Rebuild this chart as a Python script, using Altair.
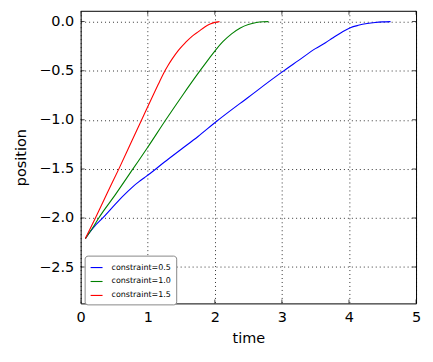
import altair as alt
import pandas as pd

# ---- data ----
labels = ["constraint=0.5", "constraint=1.0", "constraint=1.5"]
colors = ["#0000ff", "#008000", "#ff0000"]

t_05 = [0.07, 0.12, 0.20, 0.33, 0.45, 0.57, 0.68, 0.78, 0.87, 0.95, 1.03, 1.25, 1.50, 1.75,
        2.00, 2.50, 3.00, 3.25, 3.50, 3.65, 3.75, 3.90, 4.02, 4.14, 4.27, 4.39, 4.50, 4.62]
p_05 = [-2.21, -2.16, -2.09, -2.00, -1.91, -1.82, -1.745, -1.68, -1.63, -1.59, -1.55, -1.43, -1.30, -1.17,
        -1.03, -0.77, -0.515, -0.395, -0.275, -0.215, -0.17, -0.105, -0.062, -0.038, -0.02, -0.009, -0.003, 0.0]

t_10 = [0.07, 0.17, 0.27, 0.52, 0.78, 1.00, 1.27, 1.52, 1.78, 1.90, 2.00, 2.12, 2.25,
        2.38, 2.50, 2.62, 2.72, 2.80]
p_10 = [-2.21, -2.11, -2.00, -1.76, -1.50, -1.28, -1.00, -0.75, -0.50, -0.39, -0.30, -0.205, -0.125,
        -0.065, -0.03, -0.01, -0.002, 0.0]

t_15 = [0.07, 0.22, 0.40, 0.57, 0.74, 0.91, 1.08, 1.16, 1.23, 1.30, 1.37, 1.46, 1.56, 1.66,
        1.76, 1.85, 1.93, 2.00, 2.07]
p_15 = [-2.21, -2.00, -1.74, -1.50, -1.25, -1.00, -0.75, -0.635, -0.535, -0.45, -0.375, -0.29, -0.215, -0.15,
        -0.10, -0.055, -0.025, -0.008, 0.0]

x_ticks = [0, 1, 2, 3, 4, 5]
y_ticks = [-2.5, -2.0, -1.5, -1.0, -0.5, 0.0]

rows = []
for lab, ts, ps in zip(labels, [t_05, t_10, t_15], [p_05, p_10, p_15]):
    for t, p in zip(ts, ps):
        rows.append({"time": t, "position": p, "series": lab})
df = pd.DataFrame(rows)

W, H = 337, 294
xscale = alt.Scale(domain=[0, 5], nice=False, zero=False)
yscale = alt.Scale(domain=[-2.87, 0.11], nice=False, zero=False)

lines = alt.Chart(df).mark_line(strokeWidth=1.1, clip=True, interpolate="monotone").encode(
    x=alt.X("time:Q", scale=xscale, title="time",
            axis=alt.Axis(values=x_ticks, format="d")),
    y=alt.Y("position:Q", scale=yscale, title="position",
            axis=alt.Axis(values=y_ticks, format=".1f")),
    color=alt.Color("series:N",
                    scale=alt.Scale(domain=labels, range=colors),
                    legend=alt.Legend(title=None, orient="none", legendX=4, legendY=246,
                                      symbolType="stroke", symbolSize=144,
                                      symbolStrokeWidth=1.1, labelFontSize=8,
                                      labelFont="DejaVu Sans", labelColor="black",
                                      padding=5, rowPadding=3, labelOffset=8,
                                      strokeColor="#888888", cornerRadius=3,
                                      fillColor="white")),
)

xt = pd.DataFrame({"t": x_ticks})
yt = pd.DataFrame({"p": y_ticks})
tick_top = alt.Chart(xt).mark_tick(color="black", thickness=1, size=8, clip=True,
                                   orient="vertical").encode(
    x=alt.X("t:Q", scale=xscale), y=alt.value(0))
tick_bot = alt.Chart(xt).mark_tick(color="black", thickness=1, size=8, clip=True,
                                   orient="vertical").encode(
    x=alt.X("t:Q", scale=xscale), y=alt.value(H))
tick_left = alt.Chart(yt).mark_tick(color="black", thickness=1, size=8, clip=True,
                                    orient="horizontal").encode(
    y=alt.Y("p:Q", scale=yscale), x=alt.value(0))
tick_right = alt.Chart(yt).mark_tick(color="black", thickness=1, size=8, clip=True,
                                     orient="horizontal").encode(
    y=alt.Y("p:Q", scale=yscale), x=alt.value(W))

chart = alt.layer(lines, tick_top, tick_bot, tick_left, tick_right).properties(
    width=W, height=H,
    autosize=alt.AutoSizeParams(type="none"),
    padding={"left": 73, "top": 2, "right": 9, "bottom": 42},
    background="white",
).configure_view(
    stroke="black", strokeWidth=1
).configure_axis(
    labelFont="DejaVu Sans", labelFontSize=14.5, labelColor="black",
    titleFont="DejaVu Sans", titleFontSize=14.5, titleFontWeight="normal", titleColor="black",
    domain=False, ticks=False, tickSize=0, labelFlush=False, labelOverlap=False,
    grid=True, gridColor="black", gridDash=[1, 3], gridWidth=0.8, gridOpacity=1,
).configure_axisX(
    labelPadding=7, titlePadding=8
).configure_axisY(
    labelPadding=7, titlePadding=10
)

chart.save("out.html", embed_options={"renderer": "svg", "actions": False})
